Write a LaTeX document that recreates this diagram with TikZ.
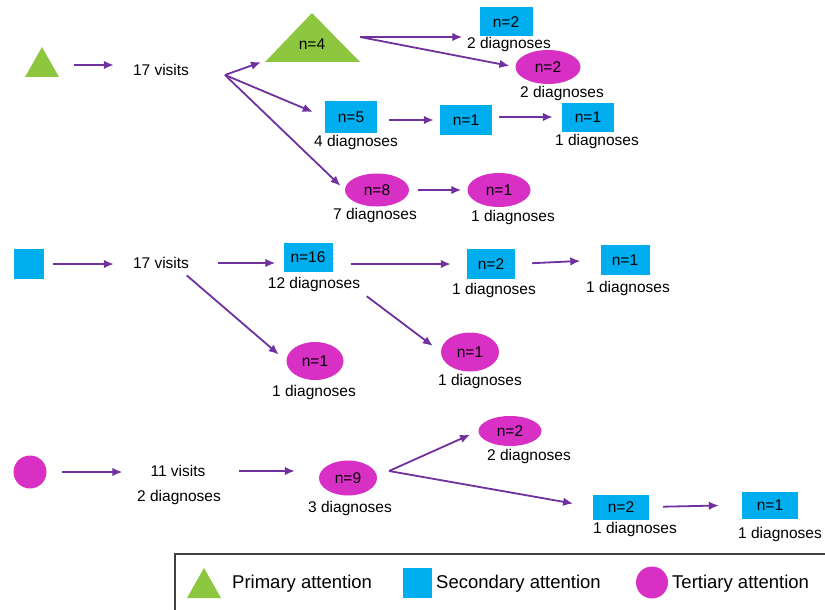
\documentclass[tikz,border=0pt]{standalone}
\usepackage{fontspec}
\setmainfont{Liberation Sans}
\usetikzlibrary{shapes.geometric, arrows.meta}
\definecolor{primgreen}{RGB}{141,198,63}
\definecolor{secblue}{RGB}{0,174,239}
\definecolor{termag}{RGB}{216,48,196}
\definecolor{flowpurple}{RGB}{112,48,160}
\definecolor{legendgray}{RGB}{64,64,64}
\tikzset{
  secbox/.style={
    shape=rectangle,
    fill=secblue,
    minimum width=52pt,
    minimum height=30pt,
    inner sep=0pt,
  },
  teroval/.style={
    shape=ellipse,
    fill=termag,
    minimum width=62pt,
    minimum height=34pt,
    inner sep=0pt,
  },
  terdot/.style={
    shape=circle, fill=termag, minimum size=33pt, inner sep=0pt
  },
  txt/.style={inner sep=0pt},
  flow/.style={
    draw=flowpurple, line width=1.8pt, -{Latex[length=10pt,width=8.5pt]}
  },
  legtxt/.style={
    anchor=base west, inner sep=0pt, font=\fontsize{18.5pt}{22pt}\selectfont
  }
}

\begin{document}
\begin{tikzpicture}[x=1pt, y=-1pt,
  every node/.style={font=\fontsize{15.5pt}{18pt}\selectfont}]
\useasboundingbox (0,0) rectangle (825,610);

% Primary attention
\coordinate (prim) at (42,65);
\fill[primgreen] (prim) +(-17,12) -- +(17,12) -- +(0,-18) -- cycle;
\node[txt] (vis1) at (161,70) {17 visits};
\coordinate (fan1) at (225,75);
\fill[primgreen] (265,62) -- (360,62) -- (312,13) -- cycle;
\node[txt] (p4) at (312,44) {n=4};
\coordinate (fan2) at (360,37);
\node[secbox, minimum width=53pt, minimum height=29pt] (s2a) at (506,22) {n=2};
\node[txt] (d2a) at (509,44) {2 diagnoses};
\node[teroval, minimum width=65pt] (o2a) at (548,67) {n=2};
\node[txt] (d2b) at (562,93) {2 diagnoses};
\node[secbox, minimum height=32pt] (s5) at (351,117) {n=5};
\node[txt] (d4) at (356,142) {4 diagnoses};
\node[secbox] (s1a) at (466,120) {n=1};
\node[secbox, minimum height=29pt] (s1b) at (588,117) {n=1};
\node[txt] (d1a) at (597,141) {1 diagnoses};
\node[teroval, minimum width=64pt, minimum height=33pt] (o8) at (377,190) {n=8};
\node[txt] (d7) at (375,215) {7 diagnoses};
\node[teroval, minimum width=63pt] (o1a) at (499,190) {n=1};
\node[txt] (d1b) at (513,217) {1 diagnoses};

\draw[flow, shorten <=32pt, shorten >=19pt] (prim) -- (prim -| vis1.west);
\draw[flow, shorten >=40pt] (fan1) -- (p4);
\draw[flow, shorten >=13pt] (fan1) -- (s5.west);
\draw[flow, shorten >=6pt] (fan1) -- (o8.west);
\draw[flow, shorten >=17pt] (fan2) -- (fan2 -| s2a.west);
\draw[flow, shorten >=6pt] (fan2) -- (o2a.west);
\draw[flow, shorten <=12pt, shorten >=6pt] (s5.east |- s1a) -- (s1a.west);
\draw[flow, shorten <=7pt, shorten >=9pt] (s1a.east |- s1b) -- (s1b.west);
\draw[flow, shorten <=9pt, shorten >=6pt] (o8.east) -- (o1a.west);

% Secondary attention
\node[secbox, minimum width=30pt] (sec) at (29,264) {};
\node[txt] (vis2) at (161,263) {17 visits};
\node[secbox, minimum width=49pt, minimum height=29pt] (s16) at (308,257) {n=16};
\node[txt] (d12) at (314,284) {12 diagnoses};
\node[teroval, minimum width=57pt, minimum height=38pt] (o1c) at (315,361) {n=1};
\node[txt] (d1c) at (314,392) {1 diagnoses};
\node[secbox, minimum width=48pt] (s2b) at (491,264) {n=2};
\node[txt] (d1d) at (494,290) {1 diagnoses};
\node[secbox, minimum width=49pt] (s1c) at (625,260) {n=1};
\node[txt] (d1e) at (628,288) {1 diagnoses};
\node[teroval, minimum width=58pt, minimum height=39pt] (o1d) at (470,352) {n=1};
\node[txt] (d1f) at (480,381) {1 diagnoses};

\draw[flow, shorten <=9pt, shorten >=19pt] (sec.east) -- (sec.east -| vis2.west);
\draw[flow, shorten <=29pt, shorten >=8pt] (vis2.east) -- (vis2.east -| s16.west);
\draw[flow, shorten <=10pt, shorten >=10pt] ([xshift=-10pt]vis2.south east) -- (o1c.west);
\draw[flow, shorten <=18pt, shorten >=16pt] (s16.east |- s2b) -- (s2b.west);
\draw[flow, shorten <=8pt, shorten >=10pt] (d12.south east) -- (o1d.west);
\draw[flow, shorten <=17pt, shorten >=20pt] (s2b.east) -- (s1c.west);

% Tertiary attention
\node[terdot] (ter) at (30,472) {};
\node[txt] (vis3) at (178,471) {11 visits};
\node[txt] (d2c) at (179,497) {2 diagnoses};
\node[teroval, minimum width=58pt, minimum height=35pt] (o9) at (348,478) {n=9};
\node[txt] (d3) at (350,508) {3 diagnoses};
\coordinate (fan3) at (389,471);
\node[teroval, minimum width=63pt, minimum height=30pt] (o2b) at (510,431) {n=2};
\node[txt] (d2d) at (529,456) {2 diagnoses};
\node[secbox, minimum width=56pt, minimum height=25pt] (s2c) at (621,507) {n=2};
\node[txt] (d1g) at (635,529) {1 diagnoses};
\node[secbox, minimum width=56pt, minimum height=27pt] (s1d) at (770,505) {n=1};
\node[txt] (d1h) at (780,534) {1 diagnoses};

\draw[flow, shorten <=15pt, shorten >=28pt] (ter.east) -- (ter.east -| vis3.west);
\draw[flow, shorten <=33pt, shorten >=24pt] (vis3.east) -- (vis3.east -| o9.west);
\draw[flow, shorten >=9pt] (fan3) -- (o2b.west);
\draw[flow, shorten >=20pt] (fan3) -- (s2c.west);
\draw[flow, shorten <=14pt, shorten >=23pt] (s2c.east) -- (s1d.west);

% Legend
\draw[legendgray, line width=1.3pt] (175,554) rectangle (840,620);
\fill[primgreen] (187,598) -- (221,598) -- (204,568) -- cycle;
\node[legtxt] (lprim) at (232,588) {Primary attention};
\node[secbox, minimum width=29pt] (lsec) at (417.5,583) {};
\node[legtxt] (lsectxt) at (436,588) {Secondary attention};
\node[terdot, minimum size=32pt] (lter) at (652,582.5) {};
\node[legtxt] (ltertxt) at (672,588) {Tertiary attention};

\end{tikzpicture}
\end{document}
